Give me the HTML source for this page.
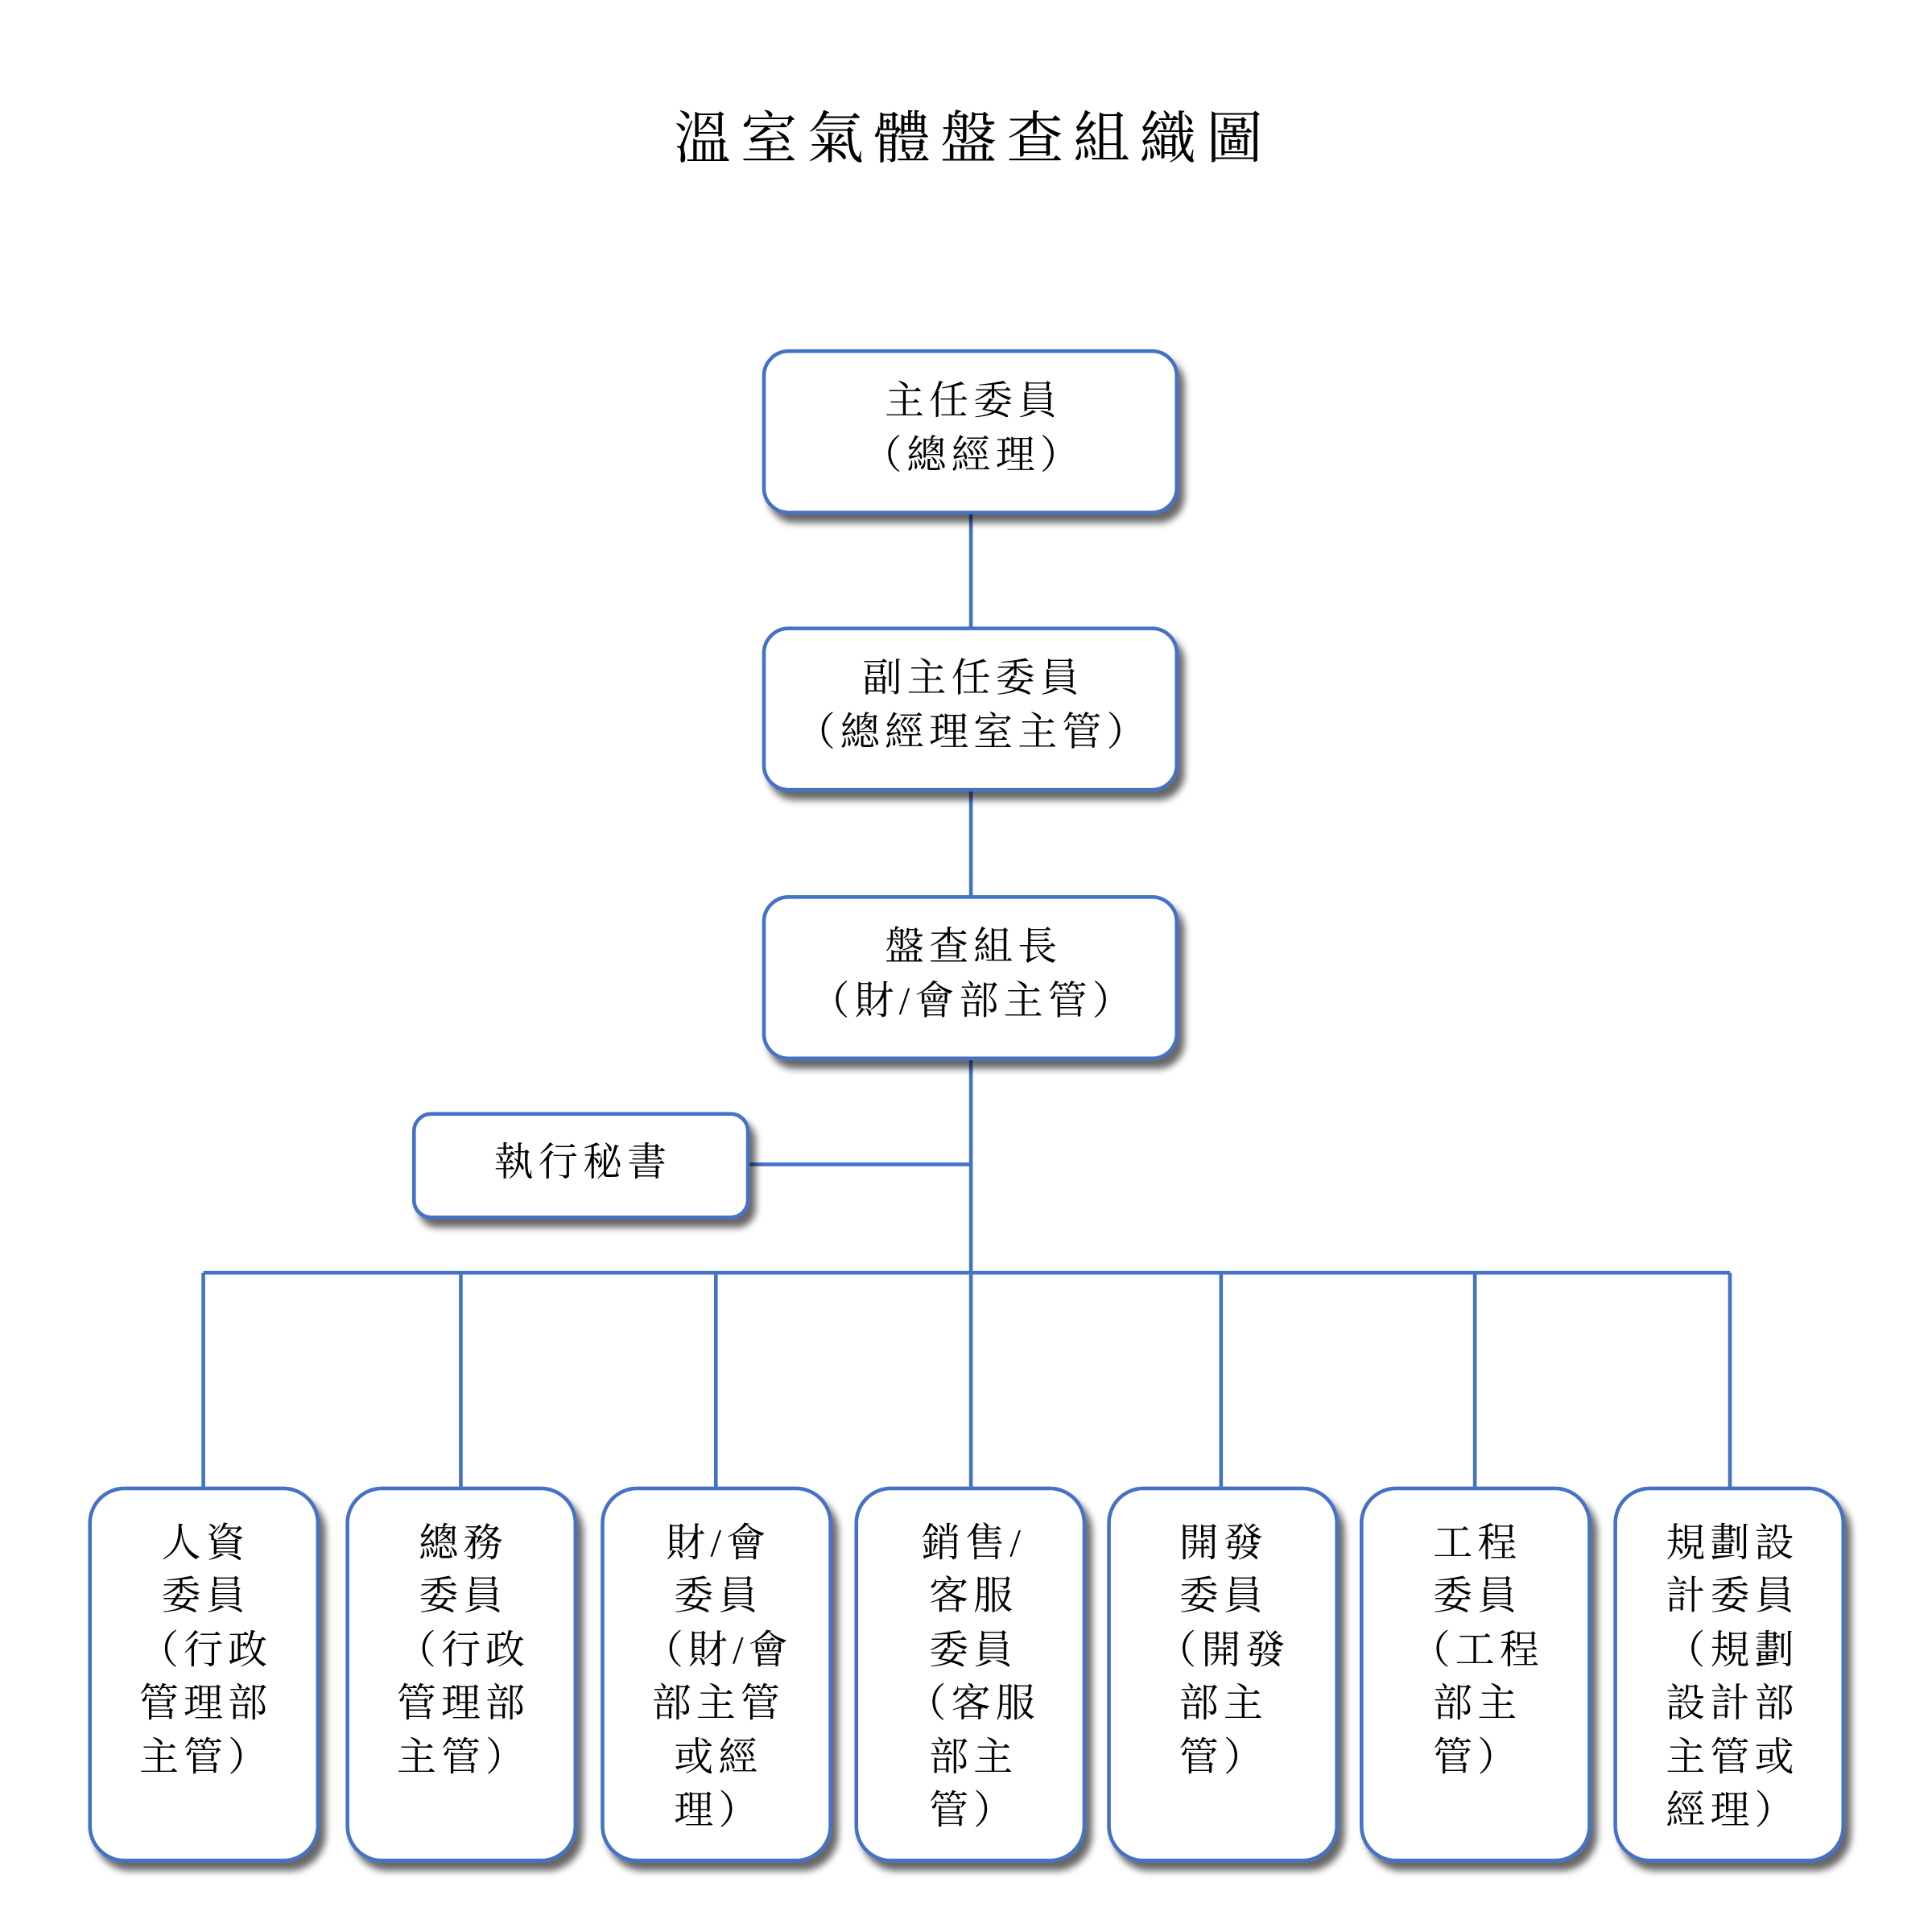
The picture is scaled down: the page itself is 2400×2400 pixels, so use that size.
<!DOCTYPE html>
<html><head><meta charset="utf-8"><style>
html,body{margin:0;padding:0;background:#fff;}
svg{display:block}
text{font-family:"Liberation Serif","Noto Serif CJK SC","Noto Serif CJK TC",serif;fill:#000;}
</style></head><body>
<svg width="2400" height="2400" viewBox="0 0 1568 1568" xmlns="http://www.w3.org/2000/svg">
<defs>
<filter id="sh" x="-20%" y="-20%" width="140%" height="140%">
<feGaussianBlur in="SourceAlpha" stdDeviation="3"/>
<feOffset dx="5" dy="7" result="b"/>
<feComponentTransfer><feFuncA type="linear" slope="0.6"/></feComponentTransfer>
<feMerge><feMergeNode/><feMergeNode in="SourceGraphic"/></feMerge>
</filter>
</defs>
<text x="790" y="113" font-size="46" text-anchor="middle" dominant-baseline="central" letter-spacing="8">溫室氣體盤查組織圖</text>
<g stroke="#4472C4" stroke-width="3" fill="none">
<line x1="788" y1="416" x2="788" y2="1208"/>
<line x1="607" y1="945" x2="788" y2="945"/>
<line x1="165" y1="1033" x2="1404" y2="1033"/>
<line x1="165" y1="1033" x2="165" y2="1208"/>
<line x1="374" y1="1033" x2="374" y2="1208"/>
<line x1="581" y1="1033" x2="581" y2="1208"/>
<line x1="991" y1="1033" x2="991" y2="1208"/>
<line x1="1197" y1="1033" x2="1197" y2="1208"/>
<line x1="1404" y1="1033" x2="1404" y2="1208"/>
</g>
<g stroke="#4472C4" stroke-width="3" fill="#fff" filter="url(#sh)">
<rect x="620" y="285" width="335" height="131" rx="20"/>
<rect x="620" y="510" width="335" height="131" rx="20"/>
<rect x="620" y="728" width="335" height="131" rx="20"/>
<rect x="336" y="904" width="271" height="84" rx="14"/>
<rect x="73" y="1208" width="185" height="302" rx="28"/>
<rect x="282" y="1208" width="185" height="302" rx="28"/>
<rect x="489" y="1208" width="185" height="302" rx="28"/>
<rect x="695" y="1208" width="185" height="302" rx="28"/>
<rect x="900" y="1208" width="185" height="302" rx="28"/>
<rect x="1105" y="1208" width="185" height="302" rx="28"/>
<rect x="1311" y="1208" width="185" height="302" rx="28"/>
</g>
<g font-size="32" text-anchor="middle" dominant-baseline="central" letter-spacing="4">
<text x="790" y="325">主任委員</text>
<text x="790" y="369">（總經理）</text>
<text x="790" y="550">副主任委員</text>
<text x="790" y="594">（總經理室主管）</text>
<text x="790" y="768">盤查組長</text>
<text x="790" y="812">（財/會部主管）</text>
<text x="473" y="943">執行秘書</text>
</g>
<g font-size="32" text-anchor="middle" dominant-baseline="central" letter-spacing="4">
<text x="167" y="1252">人資</text><text x="167" y="1295">委員</text><text x="167" y="1339">（行政</text><text x="167" y="1382">管理部</text><text x="167" y="1426">主管）</text>
<text x="376" y="1252">總務</text><text x="376" y="1295">委員</text><text x="376" y="1339">（行政</text><text x="376" y="1382">管理部</text><text x="376" y="1426">主管）</text>
<text x="583" y="1252">財/會</text><text x="583" y="1295">委員</text><text x="583" y="1339">（財/會</text><text x="583" y="1382">部主管</text><text x="583" y="1426">或經</text><text x="583" y="1469">理）</text>
<text x="790" y="1252">銷售/</text><text x="790" y="1295">客服</text><text x="790" y="1339">委員</text><text x="790" y="1382">（客服</text><text x="790" y="1426">部主</text><text x="790" y="1469">管）</text>
<text x="993" y="1252">開發</text><text x="993" y="1295">委員</text><text x="993" y="1339">（開發</text><text x="993" y="1382">部主</text><text x="993" y="1426">管）</text>
<text x="1199" y="1252">工程</text><text x="1199" y="1295">委員</text><text x="1199" y="1339">（工程</text><text x="1199" y="1382">部主</text><text x="1199" y="1426">管）</text>
<text x="1406" y="1252">規劃設</text><text x="1406" y="1295">計委員</text><text x="1406" y="1339">（規劃</text><text x="1406" y="1382">設計部</text><text x="1406" y="1426">主管或</text><text x="1406" y="1469">經理）</text>
</g>
</svg>
</body></html>
